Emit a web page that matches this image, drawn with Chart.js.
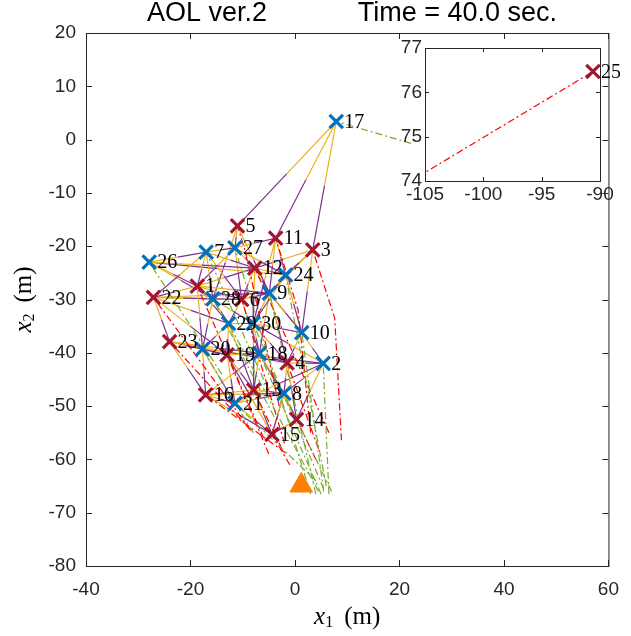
<!DOCTYPE html>
<html>
<head>
<meta charset="utf-8">
<script src="https://cdn.jsdelivr.net/npm/chart.js@4.4.0/dist/chart.umd.min.js"></script>
<style>
  html, body { margin: 0; padding: 0; background: #fff; }
  #wrap { position: relative; width: 631px; height: 636px; }
  #main { position: absolute; left: 0; top: 0; }
  #inset { position: absolute; left: 380px; top: 30px; }
</style>
</head>
<body>
<div id="wrap">
  <canvas id="main" width="631" height="636"></canvas>
  <canvas id="inset" width="240" height="180"></canvas>
</div>
<script>
// agents (blue) and targets (red), positions in metres
const agentIds = [2, 7, 8, 9, 10, 17, 18, 20, 21, 24, 26, 27, 28, 29, 30];
const agentX   = [5.4, -17.0, -2.1, -4.9, 1.3, 7.9, -6.8, -17.7, -11.5, -1.8, -27.9, -11.5, -15.7, -12.7, -8.0];
const agentY   = [-42.0, -21.1, -47.6, -28.8, -36.2, 3.4, -40.1, -39.3, -49.5, -25.4, -23.0, -20.3, -29.9, -34.5, -34.5];

const targetIds = [1, 3, 4, 5, 6, 11, 12, 13, 14, 15, 16, 19, 22, 23, 25];
const targetX   = [-18.7, 3.4, -1.5, -11.0, -10.2, -3.7, -7.7, -7.9, 0.3, -4.4, -17.1, -13.0, -27.1, -24.0, -90.6];
const targetY   = [-27.5, -20.7, -41.9, -16.2, -30.0, -18.5, -24.1, -47.0, -52.5, -55.3, -47.9, -40.4, -29.6, -37.9, 76.47];

// past path of each node, oldest point first (same order as the id lists)
const agentTrackX = [[6.5, 5.4], [-6.0, -17.0], [7.0, -2.1], [4.0, -4.9], [5.5, 1.3], [22.2, 7.9], [5.0, -6.8],
  [-8.0, -17.7], [4.0, -11.5], [6.0, -1.8], [-14.0, -27.9], [3.0, -11.5], [-4.0, -15.7], [4.5, -12.7], [5.5, -8.0]];
const agentTrackY = [[-66.5, -42.0], [-45.0, -21.1], [-66.0, -47.6], [-66.5, -28.8], [-66.0, -36.2], [-0.7, 3.4], [-66.5, -40.1],
  [-55.0, -39.3], [-64.0, -49.5], [-65.0, -25.4], [-44.0, -23.0], [-66.5, -20.3], [-52.0, -29.9], [-66.0, -34.5], [-65.5, -34.5]];
const targetTrackX = [[-6.0, -18.7], [8.9, 7.6, 3.4], [4.5, -1.5], [-3.0, -9.5, -11.0], [-2.0, -10.2], [3.0, 0.6, -3.7],
  [6.5, -7.7], [-2.5, -7.9], [4.0, 0.3], [-1.0, -4.4], [-1.8, -17.1], [-5.0, -13.0], [-8.5, -27.1], [-8.5, -24.0], [-110.0, -90.6]];
const targetTrackY = [[-56.0, -27.5], [-56.4, -33.5, -20.7], [-58.0, -41.9], [-50.0, -21.0, -16.2], [-57.0, -30.0], [-55.0, -32.0, -18.5],
  [-55.0, -24.1], [-58.0, -47.0], [-60.0, -52.5], [-61.0, -55.3], [-58.8, -47.9], [-59.0, -40.4], [-54.5, -29.6], [-54.5, -37.9], [73.4, 76.47]];

// base station
const baseX = [1.2];
const baseY = [-64.9];

// communication links: first half drawn yellow from linkFrom, second half purple into linkTo
const linkFrom = [17, 17, 17, 26, 26, 7, 7, 7, 7, 7, 5, 5, 27, 27, 27, 27, 11, 11, 3, 3,
  12, 12, 12, 12, 24, 24, 24, 1, 1, 1, 1, 1, 22, 22, 22, 22, 22, 28, 28, 28, 28,
  6, 6, 6, 9, 9, 9, 9, 29, 29, 29, 29, 30, 30, 30, 30, 10, 10, 23, 23, 23, 20, 20, 20,
  19, 19, 19, 18, 18, 18, 4, 4, 4, 2, 2, 13, 13, 13, 16, 16, 21, 21, 8, 8, 14,
  24, 22, 23, 23, 20, 16, 16, 21, 1, 1, 26, 26, 7, 5, 27, 11, 3, 3, 2, 10, 14, 15, 15, 13];
const linkTo   = [5, 11, 3, 12, 7, 22, 1, 28, 6, 12, 27, 9, 11, 12, 1, 24, 24, 9, 24, 12,
  24, 9, 6, 30, 9, 10, 30, 22, 28, 29, 20, 6, 28, 6, 29, 23, 19, 6, 29, 30, 20,
  9, 29, 18, 30, 18, 4, 10, 30, 19, 20, 13, 18, 10, 4, 13, 2, 4, 20, 19, 16, 19, 16, 21,
  18, 21, 13, 4, 13, 8, 2, 8, 14, 14, 8, 8, 21, 15, 21, 15, 15, 8, 14, 15, 15,
  26, 9, 18, 4, 2, 8, 18, 2, 12, 9, 28, 1, 27, 28, 6, 30, 10, 9, 30, 9, 18, 8, 19, 16];

const xTicks = [-40, -20, 0, 20, 40, 60];
const yTicks = [-80, -70, -60, -50, -40, -30, -20, -10, 0, 10, 20];
const insetXTicks = [-105, -100, -95, -90];
const insetYTicks = [74, 75, 76, 77];

const BLUE = '#0072BD', RED = '#A2142F', YELLOW = '#EDB120', PURPLE = '#7E2F8E';
const GREEN = '#77AC30', TRACK_RED = '#FF0000', ORANGE = '#FF8000';
const DASHDOT = [7, 3, 2, 3];

const pos = {};
agentIds.forEach((id, i) => { pos[id] = { x: agentX[i], y: agentY[i] }; });
targetIds.forEach((id, i) => { pos[id] = { x: targetX[i], y: targetY[i] }; });

function polyline(points, color, dash, order) {
    return {
        data: points, showLine: true, borderColor: color, borderWidth: 1.2,
        borderDash: dash || [], pointRadius: 0, order: order
    };
}

function track(xs, ys) {
    return xs.map((x, k) => ({ x: x, y: ys[k] }));
}

function buildDatasets() {
    const sets = [];
    // markers on top
    sets.push({ data: agentIds.map(id => pos[id]), pointStyle: 'crossRot', pointRadius: 9.5,
        borderColor: BLUE, borderWidth: 3.2, order: 0 });
    sets.push({ data: targetIds.map(id => pos[id]), pointStyle: 'crossRot', pointRadius: 9.5,
        borderColor: RED, borderWidth: 3.2, order: 0 });
    sets.push({ data: baseX.map((x, i) => ({ x: x, y: baseY[i] })), pointStyle: 'triangle',
        pointRadius: 13, backgroundColor: ORANGE, borderColor: ORANGE, borderWidth: 1, order: 0 });
    // links
    linkFrom.forEach((f, i) => {
        const a = pos[f], b = pos[linkTo[i]];
        const m = { x: (a.x + b.x) / 2, y: (a.y + b.y) / 2 };
        sets.push(polyline([a, m], YELLOW, null, 2));
        sets.push(polyline([m, b], PURPLE, null, 2));
    });
    // tracks
    agentIds.forEach((id, i) => {
        sets.push(polyline(track(agentTrackX[i], agentTrackY[i]), GREEN, DASHDOT, 1));
    });
    targetIds.forEach((id, i) => {
        if (id === 25) return;
        sets.push(polyline(track(targetTrackX[i], targetTrackY[i]), TRACK_RED, DASHDOT, 1));
    });
    return sets;
}

const tickFont = { family: 'Liberation Sans', size: 19 };

// box with inward ticks on all four sides
const boxPlugin = {
    id: 'box',
    beforeDraw(chart) {
        const a = chart.chartArea, ctx = chart.ctx;
        ctx.save();
        ctx.fillStyle = '#fff';
        ctx.fillRect(a.left, a.top, a.right - a.left, a.bottom - a.top);
        ctx.restore();
    },
    afterDraw(chart, args, opts) {
        const a = chart.chartArea, ctx = chart.ctx;
        const len = opts.tickLen || 5;
        ctx.save();
        ctx.strokeStyle = '#262626';
        ctx.lineWidth = 1;
        ctx.strokeRect(a.left + 0.5, a.top + 0.5, a.right - a.left, a.bottom - a.top);
        ctx.beginPath();
        opts.xt.forEach(v => {
            const px = Math.round(chart.scales.x.getPixelForValue(v)) + 0.5;
            ctx.moveTo(px, a.bottom); ctx.lineTo(px, a.bottom - len);
            ctx.moveTo(px, a.top); ctx.lineTo(px, a.top + len);
        });
        opts.yt.forEach(v => {
            const py = Math.round(chart.scales.y.getPixelForValue(v)) + 0.5;
            ctx.moveTo(a.left, py); ctx.lineTo(a.left + len, py);
            ctx.moveTo(a.right, py); ctx.lineTo(a.right - len, py);
        });
        ctx.stroke();
        ctx.restore();
    }
};

// node numbers next to the markers
const labelPlugin = {
    id: 'nodeLabels',
    afterDatasetsDraw(chart, args, opts) {
        const ctx = chart.ctx, sx = chart.scales.x, sy = chart.scales.y;
        ctx.save();
        ctx.font = '20px "Liberation Serif"';
        ctx.fillStyle = '#000';
        ctx.textBaseline = 'middle';
        ctx.textAlign = 'left';
        opts.ids.forEach(id => {
            const p = pos[id];
            ctx.fillText(String(id), sx.getPixelForValue(p.x) + 8, sy.getPixelForValue(p.y) + 1);
        });
        ctx.restore();
    }
};

// title and axis titles
const textPlugin = {
    id: 'texts',
    afterDraw(chart) {
        const ctx = chart.ctx, a = chart.chartArea;
        const cx = (a.left + a.right) / 2, cy = (a.top + a.bottom) / 2;
        ctx.save();
        ctx.fillStyle = '#000';
        ctx.textBaseline = 'middle';
        ctx.font = '27px "Liberation Sans"';
        ctx.textAlign = 'left';
        ctx.fillText('AOL ver.2', 147, 14);
        ctx.textAlign = 'right';
        ctx.fillText('Time = 40.0 sec.', 557, 14);

        function axisTitle(sub) {
            const big = 'italic 25px "Liberation Serif"', small = '16px "Liberation Serif"', up = '25px "Liberation Serif"';
            ctx.font = big;
            const w1 = ctx.measureText('x').width;
            ctx.font = small;
            const w2 = ctx.measureText(sub).width;
            ctx.font = up;
            const gap = 11;
            const w3 = ctx.measureText('(m)').width;
            let x = -(w1 + w2 + gap + w3) / 2;
            ctx.textAlign = 'left';
            ctx.font = big;
            ctx.fillText('x', x, 0); x += w1;
            ctx.font = small;
            ctx.fillText(sub, x, 6); x += w2 + gap;
            ctx.font = up;
            ctx.fillText('(m)', x, 0);
        }
        ctx.save();
        ctx.translate(cx, 617);
        axisTitle('1');
        ctx.restore();
        ctx.save();
        ctx.translate(24, cy);
        ctx.rotate(-Math.PI / 2);
        axisTitle('2');
        ctx.restore();
        ctx.restore();
    }
};

new Chart(document.getElementById('main'), {
    type: 'scatter',
    data: { datasets: buildDatasets() },
    options: {
        responsive: false,
        animation: false,
        layout: { padding: { top: 33, right: 11, left: 0, bottom: 0 } },
        plugins: {
            legend: { display: false }, tooltip: { enabled: false },
            box: { xt: xTicks, yt: yTicks, tickLen: 6 },
            nodeLabels: { ids: agentIds.concat(targetIds).filter(id => id !== 25) }
        },
        scales: {
            x: {
                type: 'linear', min: -40, max: 60,
                afterFit: s => { s.height = 70; },
                afterBuildTicks: s => { s.ticks = xTicks.map(v => ({ value: v })); },
                ticks: { font: tickFont, color: '#262626', padding: 12, maxRotation: 0 },
                grid: { display: false, drawTicks: false }, border: { display: false }
            },
            y: {
                type: 'linear', min: -80, max: 20,
                afterFit: s => { s.width = 86; },
                afterBuildTicks: s => { s.ticks = yTicks.map(v => ({ value: v })); },
                ticks: { font: tickFont, color: '#262626', padding: 10 },
                grid: { display: false, drawTicks: false }, border: { display: false }
            }
        }
    },
    plugins: [boxPlugin, labelPlugin, textPlugin]
});

// zoomed view around target 25
const i25 = targetIds.indexOf(25);
new Chart(document.getElementById('inset'), {
    type: 'scatter',
    data: {
        datasets: [
            { data: [pos[25]], pointStyle: 'crossRot', pointRadius: 9.5, borderColor: RED, borderWidth: 3.2, order: 0 },
            polyline(track(targetTrackX[i25], targetTrackY[i25]), TRACK_RED, DASHDOT, 1)
        ]
    },
    options: {
        responsive: false,
        animation: false,
        layout: { padding: { top: 18, right: 20, left: 0, bottom: 0 } },
        plugins: {
            legend: { display: false }, tooltip: { enabled: false },
            box: { xt: insetXTicks, yt: insetYTicks, tickLen: 4 },
            nodeLabels: { ids: [25] }
        },
        scales: {
            x: {
                type: 'linear', min: -105, max: -90,
                afterFit: s => { s.height = 29; },
                afterBuildTicks: s => { s.ticks = insetXTicks.map(v => ({ value: v })); },
                ticks: { font: tickFont, color: '#262626', padding: 2, maxRotation: 0 },
                grid: { display: false, drawTicks: false }, border: { display: false }
            },
            y: {
                type: 'linear', min: 74, max: 77,
                afterFit: s => { s.width = 45; },
                afterBuildTicks: s => { s.ticks = insetYTicks.map(v => ({ value: v })); },
                ticks: { font: tickFont, color: '#262626', padding: 3 },
                grid: { display: false, drawTicks: false }, border: { display: false }
            }
        }
    },
    plugins: [boxPlugin, labelPlugin]
});
</script>
</body>
</html>
